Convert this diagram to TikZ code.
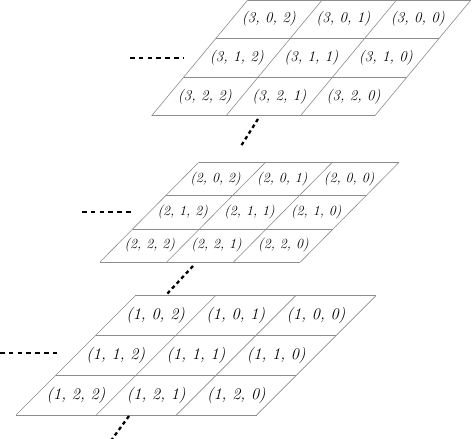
\documentclass[tikz,border=0pt]{standalone}
\begin{document}
\begin{tikzpicture}[x=1pt,y=-1pt,
  gridline/.style={draw=black!45, line width=0.6pt},
  lbl/.style={inner sep=0pt},
  dotrow/.style={line width=2.3pt, dash pattern=on 4.6pt off 4.2pt},
  dotslant/.style={line width=2.3pt, dash pattern=on 3.6pt off 3.2pt}]
\useasboundingbox (0,0) rectangle (472,439);
% #1 layer, #2 bx, #3 by, #4 cell width, #5 row height, #6 shear, #7 font size
\newcommand{\layergrid}[7]{%
  \foreach \r in {0,...,3} {
    \draw[gridline] ({#2+#6*(3-\r)*#5},{#3-(3-\r)*#5}) -- ++({3*#4},0);
  }
  \foreach \c in {0,...,3} {
    \draw[gridline] ({#2+\c*#4},#3) -- ++({#6*3*#5},{-3*#5});
  }
  \foreach \r in {0,1,2} {
    \foreach \c in {0,1,2} {
      \pgfmathtruncatemacro\k{2-\c}
      \node[lbl, font=\fontsize{#7}{#7}\selectfont\itshape] (n#1\r\k)
        at ({#2+(\c+0.5)*#4+#6*(2.5-\r)*#5},{#3-(2.5-\r)*#5}) {(#1, \r, \k)};
    }
  }
}
\layergrid{3}{151.7}{115.7}{74.4}{38.6}{0.83}{15}
\layergrid{2}{100}{262}{66.8}{33.2}{0.99}{14}
\layergrid{1}{16}{415}{80.2}{39.8}{1.0}{16.3}
% horizontal dotted lines
\coordinate (h3a) at (130,58);  \coordinate (h3b) at (183,58);
\coordinate (h2a) at (82,212);  \coordinate (h2b) at (133,212);
\coordinate (h1a) at (0,353);   \coordinate (h1b) at (59,353);
\draw[dotrow] (h3a) -- (h3b);
\draw[dotrow] (h2a) -- (h2b);
\draw[dotrow] (h1a) -- (h1b);
% slanted dotted lines
\coordinate (v3a) at (258,119); \coordinate (v3b) at (241,146);
\coordinate (v2a) at (193,266); \coordinate (v2b) at (167,294);
\coordinate (v1a) at (129,416); \coordinate (v1b) at (110,442);
\draw[dotslant] (v3a) -- (v3b);
\draw[dotslant] (v2a) -- (v2b);
\draw[dotslant] (v1a) -- (v1b);
\end{tikzpicture}
\end{document}
